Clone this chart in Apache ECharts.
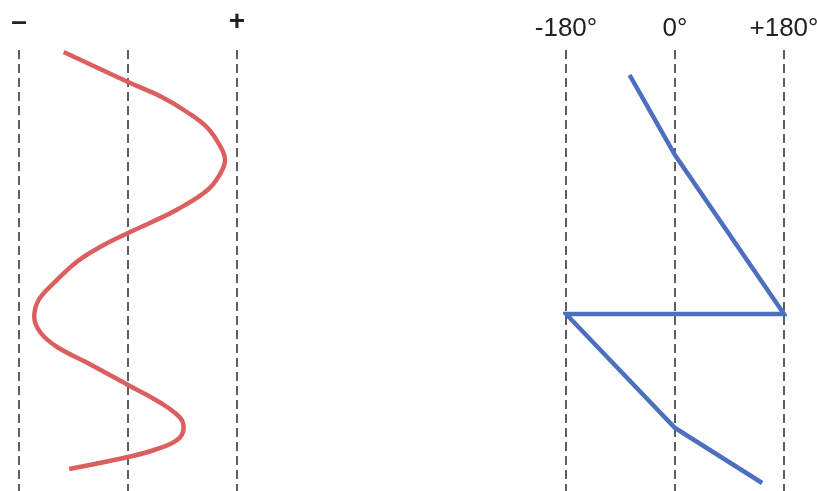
<!DOCTYPE html>
<html>
<head>
<meta charset="utf-8">
<script src="https://cdn.jsdelivr.net/npm/echarts@6/dist/echarts.min.js"></script>
<style>
  html, body { margin: 0; padding: 0; background: #fff; }
  #chart { width: 817px; height: 491px; }
</style>
</head>
<body>
<div id="chart"></div>
<script>
// left panel: red wave, x from -1 (-) to +1 (+), y = depth going down
var waveX = [-0.59, 0, 0.31, 0.54, 0.73, 0.85, 0.89, 0.85, 0.73, 0.46, 0.22, 0, -0.24, -0.46, -0.68, -0.82, -0.86, -0.80, -0.65, -0.37, 0, 0.30, 0.48, 0.51, 0.45, 0.24, 0, -0.54];
var waveY = [2, 32, 47, 62, 78, 97, 110, 123, 140, 159, 172, 183, 196, 211, 233, 250, 267, 283, 297, 313, 335, 353, 368, 378, 390, 400, 407, 419];

// right panel: phase in degrees, wraps at +180 back to -180
var phaseDeg = [-75, 0, 180, -180, 0, 144];
var phaseY = [25, 105, 264, 264, 378, 433];

var leftTicks = {'-1': '\u2013', '0': '', '1': '+'};
var rightTicks = {'-180': '-180\u00b0', '0': '0\u00b0', '180': '+180\u00b0'};

var myChart = echarts.init(document.getElementById('chart'));

var dashed = {show: true, lineStyle: {color: '#2a2a2a', width: 1.5, type: [9, 5]}};

var option = {
  animation: false,
  grid: [
    {left: 19, width: 218, top: 50, height: 441, outerBoundsMode: 'none'},
    {left: 566, width: 218, top: 50, height: 441, outerBoundsMode: 'none'}
  ],
  xAxis: [
    {
      gridIndex: 0, type: 'value', position: 'top', min: -1, max: 1, interval: 1,
      axisLine: {show: false}, axisTick: {show: false},
      splitLine: dashed,
      axisLabel: {
        margin: 14, fontSize: 28, fontWeight: 'bold', color: '#222', fontFamily: 'Liberation Sans',
        showMinLabel: true, showMaxLabel: true,
        formatter: function (v) { return leftTicks[String(v)]; }
      }
    },
    {
      gridIndex: 1, type: 'value', position: 'top', min: -180, max: 180, interval: 180,
      axisLine: {show: false}, axisTick: {show: false},
      splitLine: dashed,
      axisLabel: {
        margin: 8, fontSize: 26, color: '#222', fontFamily: 'Liberation Sans',
        showMinLabel: true, showMaxLabel: true,
        formatter: function (v) { return rightTicks[String(v)]; }
      }
    }
  ],
  yAxis: [
    {gridIndex: 0, type: 'value', min: 0, max: 441, inverse: true, show: false},
    {gridIndex: 1, type: 'value', min: 0, max: 441, inverse: true, show: false}
  ],
  series: [
    {
      type: 'line', xAxisIndex: 0, yAxisIndex: 0, smooth: 0.4, symbol: 'none',
      lineStyle: {color: '#dc5f5f', width: 4.5},
      data: waveX.map(function (x, i) { return [x, waveY[i]]; })
    },
    {
      type: 'line', xAxisIndex: 1, yAxisIndex: 1, symbol: 'none',
      lineStyle: {color: '#4c6fbf', width: 4.5, join: 'miter'},
      data: phaseDeg.map(function (d, i) { return [d, phaseY[i]]; })
    }
  ]
};

myChart.setOption(option);
</script>
</body>
</html>
